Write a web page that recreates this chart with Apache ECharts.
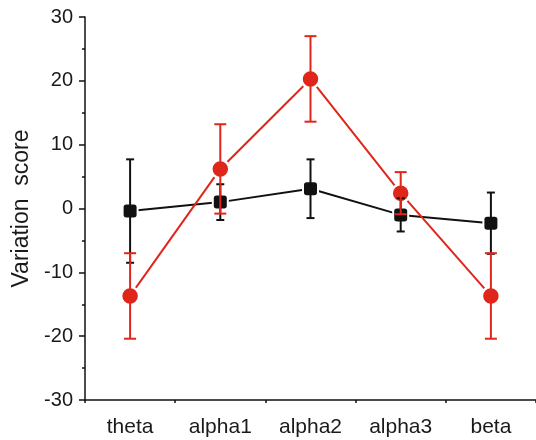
<!DOCTYPE html>
<html>
<head>
<meta charset="utf-8">
<script src="https://cdn.jsdelivr.net/npm/echarts@6/dist/echarts.min.js"></script>
<style>
html,body{margin:0;padding:0;background:#fff;}
#c{width:536px;height:440px;}
</style>
</head>
<body>
<div id="c"></div>
<script>
const categories = ['theta', 'alpha1', 'alpha2', 'alpha3', 'beta'];
const blackMean = [-0.4, 1.0, 3.1, -1.0, -2.3];
const blackErr = [8.1, 2.8, 4.6, 2.6, 4.8];
const redMean = [-13.7, 6.2, 20.3, 2.4, -13.7];
const redErr = [6.7, 7.0, 6.7, 3.3, 6.7];
const yTicks = [-30, -20, -10, 0, 10, 20, 30];

const RED = '#E0261B';
const BLACK = '#111111';
const FONT = '"Liberation Sans", Arial, Helvetica, sans-serif';

function errData(mean, err) {
  return mean.map((m, i) => [i, m - err[i], m + err[i]]);
}

function errRender(color, capW, lw) {
  return function (params, api) {
    const x = api.value(0);
    const lo = api.coord([x, api.value(1)]);
    const hi = api.coord([x, api.value(2)]);
    const st = { stroke: color, lineWidth: lw };
    return {
      type: 'group',
      children: [
        { type: 'line', shape: { x1: hi[0], y1: hi[1], x2: lo[0], y2: lo[1] }, style: st },
        { type: 'line', shape: { x1: hi[0] - capW / 2, y1: hi[1], x2: hi[0] + capW / 2, y2: hi[1] }, style: st },
        { type: 'line', shape: { x1: lo[0] - capW / 2, y1: lo[1], x2: lo[0] + capW / 2, y2: lo[1] }, style: st }
      ]
    };
  };
}

const chart = echarts.init(document.getElementById('c'), null, { renderer: 'canvas' });
chart.setOption({
  animation: false,
  backgroundColor: '#fff',
  grid: { left: 85, top: 17, width: 454, bottom: 40, containLabel: false },
  xAxis: [
    {
      type: 'category',
      data: categories,
      boundaryGap: true,
      axisLine: { onZero: false, lineStyle: { color: BLACK, width: 1.5 } },
      axisTick: { alignWithLabel: true, length: 6, lineStyle: { color: BLACK, width: 1.5 } },
      axisLabel: { color: '#1a1a1a', fontSize: 21, fontFamily: FONT, margin: 17 },
      splitLine: { show: false }
    },
    {
      type: 'category',
      data: categories,
      boundaryGap: true,
      position: 'bottom',
      axisLine: { show: false, onZero: false },
      axisTick: { show: true, length: 3, lineStyle: { color: BLACK, width: 1.5 } },
      axisLabel: { show: false },
      splitLine: { show: false }
    }
  ],
  yAxis: {
    type: 'value',
    min: yTicks[0],
    max: yTicks[yTicks.length - 1],
    interval: 10,
    name: 'Variation  score',
    nameLocation: 'middle',
    nameGap: 50,
    nameTextStyle: { color: '#1a1a1a', fontSize: 23, fontFamily: FONT },
    axisLine: { show: true, lineStyle: { color: BLACK, width: 1.5 } },
    axisTick: { show: true, length: 6, lineStyle: { color: BLACK, width: 1.5 } },
    minorTick: { show: true, splitNumber: 2, length: 3, lineStyle: { color: BLACK, width: 1.5 } },
    axisLabel: { color: '#1a1a1a', fontSize: 20, fontFamily: FONT, margin: 12 },
    splitLine: { show: false },
    minorSplitLine: { show: false }
  },
  series: [
    {
      type: 'line',
      data: blackMean,
      z: 2,
      symbol: 'roundRect',
      symbolSize: 15,
      lineStyle: { color: BLACK, width: 2 },
      itemStyle: { color: BLACK, borderColor: '#fff', borderWidth: 2 }
    },
    {
      type: 'line',
      data: redMean,
      z: 3,
      symbol: 'circle',
      symbolSize: 18,
      lineStyle: { color: RED, width: 2 },
      itemStyle: { color: RED, borderColor: '#fff', borderWidth: 2.5 }
    },
    {
      type: 'custom',
      z: 4,
      data: errData(blackMean, blackErr),
      encode: { x: 0, y: [1, 2] },
      renderItem: errRender(BLACK, 8, 2)
    },
    {
      type: 'custom',
      z: 5,
      data: errData(redMean, redErr),
      encode: { x: 0, y: [1, 2] },
      renderItem: errRender(RED, 12, 2)
    }
  ]
});
</script>
</body>
</html>
